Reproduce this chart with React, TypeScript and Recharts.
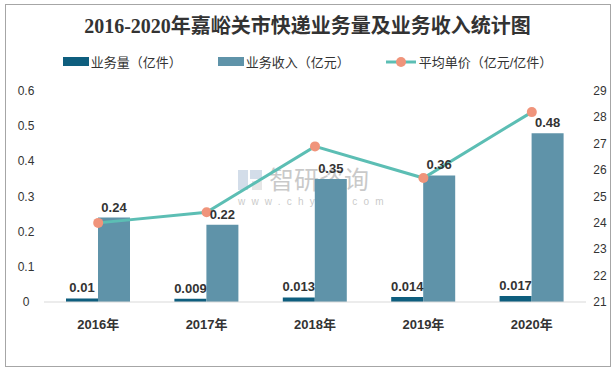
import React from "react";
import {
  Bar,
  ComposedChart,
  LabelList,
  Line,
  XAxis,
  YAxis,
} from "recharts";

// 2016-2020 嘉峪关市快递业务量及业务收入
const YEARS = ["2016年", "2017年", "2018年", "2019年", "2020年"];
const VOLUME = [0.01, 0.009, 0.013, 0.014, 0.017]; // 亿件
const REVENUE = [0.24, 0.22, 0.35, 0.36, 0.48]; // 亿元
const UNIT_PRICE = [24.0, 24.4, 26.9, 25.7, 28.2]; // 亿元/亿件
const LEFT_TICKS = [0, 0.1, 0.2, 0.3, 0.4, 0.5, 0.6];
const RIGHT_TICKS = [21, 22, 23, 24, 25, 26, 27, 28, 29];

const DARK = "#0e5e7e";
const LIGHT = "#5f93a9";
const LINE = "#5cbeb4";
const DOT = "#f0947b";
const SANS = "'Liberation Sans', 'Noto Sans CJK SC', sans-serif";

const chartData = YEARS.map((year, i) => ({
  year,
  volume: VOLUME[i],
  revenue: REVENUE[i],
  price: UNIT_PRICE[i],
}));

const LEGEND_ITEMS = [
  { label: "业务量（亿件）", color: DARK, type: "rect" },
  { label: "业务收入（亿元）", color: LIGHT, type: "rect" },
  { label: "平均单价（亿元/亿件）", color: LINE, type: "line" },
];

function ChartLegend() {
  return (
    <div
      style={{
        position: "absolute",
        top: 52,
        left: 0,
        width: 615,
        display: "flex",
        justifyContent: "center",
        gap: 36,
        fontFamily: SANS,
        fontSize: 13,
        color: "#333",
      }}
    >
      {LEGEND_ITEMS.map((item) => (
        <div key={item.label} style={{ display: "flex", alignItems: "center" }}>
          {item.type === "rect" ? (
            <span
              style={{
                width: 26,
                height: 9,
                background: item.color,
                marginRight: 2,
              }}
            />
          ) : (
            <svg width={30} height={12} style={{ marginRight: 3 }}>
              <line x1={0} y1={6} x2={30} y2={6} stroke={item.color} strokeWidth={3} />
              <circle cx={15} cy={6} r={5} fill={DOT} />
            </svg>
          )}
          <span>{item.label}</span>
        </div>
      ))}
    </div>
  );
}

const leftTick = (props: any) => (
  <text
    x={26}
    y={props.y}
    dy={4}
    textAnchor="middle"
    fontSize={12}
    fontFamily={SANS}
    fill="#333"
  >
    {props.payload.value}
  </text>
);

const rightTick = (props: any) => (
  <text
    x={600}
    y={props.y}
    dy={4}
    textAnchor="middle"
    fontSize={12}
    fontFamily={SANS}
    fill="#333"
  >
    {props.payload.value}
  </text>
);

export default function App() {
  return (
    <div
      style={{
        position: "fixed",
        left: 0,
        top: 0,
        width: 615,
        height: 370,
        background: "#fff",
      }}
    >
      <div
        style={{
          position: "absolute",
          left: 5,
          top: 4,
          width: 604,
          height: 361,
          border: "1px solid #a6a6a6",
        }}
      />
      {/* watermark, drawn behind the chart */}
      <svg
        width={615}
        height={370}
        style={{ position: "absolute", left: 0, top: 0, pointerEvents: "none" }}
      >
        <g opacity={0.45}>
          <rect x={238} y={170} width={10} height={20} fill="#9fb4d0" />
          <rect x={250} y={170} width={12} height={9} fill="#9fb4d0" />
          <rect x={252} y={181} width={10} height={9} fill="#c8c8c8" />
          <text
            x={269}
            y={189}
            fontSize={25}
            fontFamily="'Noto Sans CJK SC', sans-serif"
            fill="#8a8a8a"
          >
            智研咨询
          </text>
          <text
            x={238}
            y={205}
            fontSize={10}
            letterSpacing={6.2}
            fontFamily={SANS}
            fill="#8a8a8a"
          >
            www.chyxx.com
          </text>
        </g>
      </svg>
      <div
        style={{
          position: "absolute",
          top: 10,
          width: 615,
          textAlign: "center",
          fontFamily: "'Liberation Serif', 'Noto Sans CJK SC', serif",
          fontWeight: "bold",
          fontSize: 20,
          color: "#333",
        }}
      >
        2016-2020年嘉峪关市快递业务量及业务收入统计图
      </div>
      <ChartLegend />
      <div style={{ position: "absolute", left: 0, top: 0 }}>
        <ComposedChart
          width={615}
          height={370}
          data={chartData}
          margin={{ top: 91, right: 0, bottom: 0, left: 0 }}
          barGap={0}
          barCategoryGap="20%"
        >
          <XAxis
            dataKey="year"
            axisLine={{ stroke: "#d9d9d9" }}
            tickLine={false}
            height={68}
            tick={{ fontSize: 13, fontWeight: "bold", fill: "#333", fontFamily: SANS }}
            tickMargin={12}
          />
          <YAxis
            yAxisId="left"
            width={44}
            domain={[0, 0.6]}
            ticks={LEFT_TICKS}
            axisLine={false}
            tickLine={false}
            tick={leftTick}
          />
          <YAxis
            yAxisId="right"
            orientation="right"
            width={29}
            domain={[21, 29]}
            ticks={RIGHT_TICKS}
            axisLine={false}
            tickLine={false}
            tick={rightTick}
          />
          <Bar
            yAxisId="left"
            dataKey="volume"
            fill={DARK}
            barSize={32}
            isAnimationActive={false}
          >
            <LabelList
              dataKey="volume"
              position="top"
              offset={6}
              style={{ fontSize: 13, fontWeight: "bold", fill: "#333", fontFamily: SANS }}
            />
          </Bar>
          <Bar
            yAxisId="left"
            dataKey="revenue"
            fill={LIGHT}
            barSize={32}
            isAnimationActive={false}
          >
            <LabelList
              dataKey="revenue"
              position="top"
              offset={6}
              style={{ fontSize: 13, fontWeight: "bold", fill: "#333", fontFamily: SANS }}
            />
          </Bar>
          <Line
            yAxisId="right"
            dataKey="price"
            stroke={LINE}
            strokeWidth={3}
            dot={{ r: 5, fill: DOT, stroke: "none" }}
            activeDot={false}
            isAnimationActive={false}
          />
        </ComposedChart>
      </div>
    </div>
  );
}
